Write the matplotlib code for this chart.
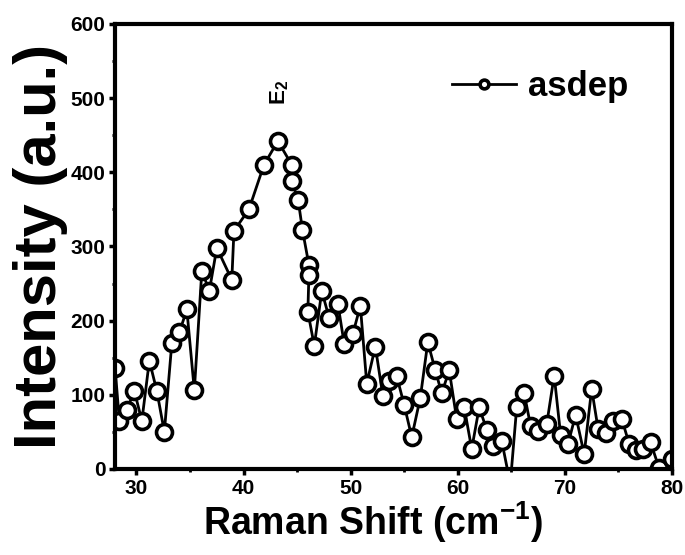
import matplotlib.pyplot as plt
from matplotlib.ticker import MultipleLocator

plt.rcParams['font.family'] = ['Liberation Sans', 'DejaVu Sans']
plt.rcParams['font.weight'] = 'bold'
plt.rcParams['mathtext.fontset'] = 'custom'
plt.rcParams['mathtext.rm'] = 'Liberation Sans'
plt.rcParams['mathtext.bf'] = 'Liberation Sans:bold'

# raman shift (cm-1) and intensity
shift = [28.0, 28.4, 29.1, 29.8, 30.5, 31.2, 31.9, 32.6, 33.3, 34.0,
         34.7, 35.4, 36.1, 36.8, 37.5, 38.9, 39.1, 40.5, 41.9, 43.2,
         44.5, 44.5, 45.1, 45.5, 46.1, 46.1, 46.0, 46.6, 47.3, 48.0,
         48.8, 49.4, 50.2, 50.9, 51.5, 52.3, 53.0, 53.6, 54.3, 55.0,
         55.7, 56.5, 57.2, 57.9, 58.5, 59.2, 59.9, 60.6, 61.3, 62.0,
         62.7, 63.3, 64.1, 64.9, 65.5, 66.2, 66.8, 67.5, 68.3, 69.0,
         69.6, 70.3, 71.0, 71.8, 72.5, 73.1, 73.8, 74.5, 75.3, 76.0,
         76.6, 77.3, 78.0, 78.8, 80.0]
intensity = [136, 65, 80, 105, 65, 146, 105, 50, 170, 184,
             215, 106, 267, 240, 298, 255, 321, 350, 410, 442,
             410, 388, 362, 322, 275, 262, 212, 166, 240, 203,
             223, 168, 182, 220, 115, 165, 99, 119, 125, 86,
             43, 96, 171, 133, 102, 133, 67, 83, 27, 83,
             53, 31, 38, -20, 83, 102, 58, 51, 60, 126,
             46, 34, 73, 20, 108, 54, 48, 64, 68, 34,
             25, 27, 36, 1, 13]

fig = plt.figure(figsize=(6.85, 5.55), dpi=100)
ax = fig.add_axes([0.168, 0.155, 0.813, 0.802])

ax.plot(shift, intensity, 'k-', lw=2, marker='o', ms=11.5, mfc='white',
        mec='black', mew=2.6, label='asdep')

ax.set_xlim(28, 80)
ax.set_ylim(0, 600)
ax.xaxis.set_major_locator(MultipleLocator(10))
ax.xaxis.set_minor_locator(MultipleLocator(5))
ax.yaxis.set_major_locator(MultipleLocator(100))
ax.yaxis.set_minor_locator(MultipleLocator(50))
ax.tick_params(which='major', direction='out', length=4, width=2.5, labelsize=15, pad=3)
ax.tick_params(which='minor', direction='out', length=2.5, width=2)
for s in ax.spines.values():
    s.set_linewidth(3)
for lab in ax.get_xticklabels() + ax.get_yticklabels():
    lab.set_fontweight('bold')

ax.set_xlabel('Raman Shift (cm$^{\\mathbf{-1}}$)', fontsize=27, fontweight='bold')
ax.xaxis.set_label_coords(0.463, -0.068)
ax.set_ylabel('Intensity (a.u.)', fontsize=43, fontweight='bold', labelpad=2)

ax.text(43.4, 490, 'E$_\\mathbf{2}$', rotation=90, fontsize=16, fontweight='bold',
        ha='center', va='bottom')

leg = ax.legend(loc='center left', bbox_to_anchor=(0.605, 0.86), frameon=False,
                fontsize=25, markerscale=0.55, handlelength=1.85,
                handletextpad=0.35, borderpad=0, borderaxespad=0)

fig.savefig('out.png', dpi=100)
